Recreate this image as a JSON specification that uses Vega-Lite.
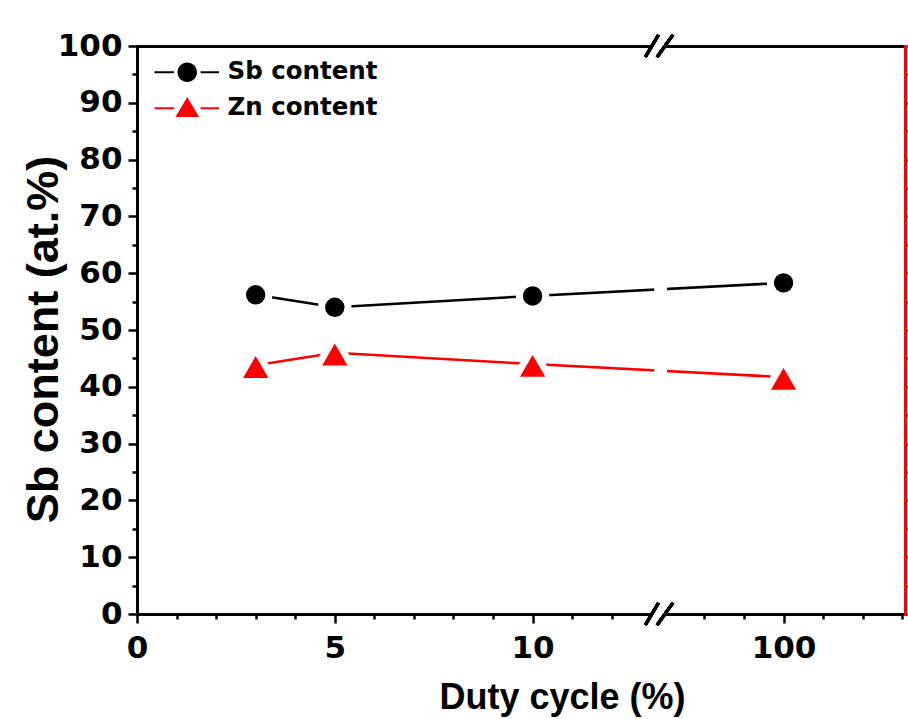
{
  "$schema": "https://vega.github.io/schema/vega-lite/v6.json",
  "autosize": {"type": "none"},
  "width": 768,
  "height": 568,
  "padding": {"left": 137, "top": 46, "right": 3, "bottom": 105},
  "background": "white",
  "config": {
    "view": {"stroke": null},
    "font": "Liberation Sans",
    "axis": {"grid": false}
  },
  "datasets": {
    "content": [
      {"duty": 3, "series": "Sb content", "value": 56.2},
      {"duty": 5, "series": "Sb content", "value": 54.0},
      {"duty": 10, "series": "Sb content", "value": 56.0},
      {"duty": 100, "series": "Sb content", "value": 58.3},
      {"duty": 3, "series": "Zn content", "value": 43.8},
      {"duty": 5, "series": "Zn content", "value": 46.0},
      {"duty": 10, "series": "Zn content", "value": 44.0},
      {"duty": 100, "series": "Zn content", "value": 41.7}
    ]
  },
  "data": {"name": "content"},
  "resolve": {"axis": {"x": "independent", "y": "independent"}},
  "layer": [
    {
      "transform": [{"filter": "datum.series === 'Sb content'"}],
      "mark": {"type": "line", "strokeWidth": 2.5, "color": "black"},
      "encoding": {
        "x": {
          "field": "duty", "type": "quantitative",
          "scale": {"domain": [0, 13.18, 68.4, 130.66], "range": [0, 521.4, 521.4, 768], "nice": false, "zero": false},
          "axis": {
            "orient": "bottom",
            "values": [0, 1, 2, 3, 4, 5, 6, 7, 8, 9, 10, 11, 12, 80, 90, 100, 110, 120, 130],
            "labelExpr": "indexof([0,5,10,100], datum.value) >= 0 ? datum.label : ''",
            "tickSize": {"condition": {"test": "indexof([0,5,10,100], datum.value) >= 0", "value": 9}, "value": 5},
            "tickWidth": 2.5, "tickColor": "black",
            "domainColor": "black", "domainWidth": 3, "domainCap": "square",
            "labelFont": "DejaVu Sans", "labelFontSize": 31, "labelFontWeight": "bold", "labelColor": "black",
            "labelPadding": 10, "labelFlush": false, "labelOverlap": false,
            "title": "Duty cycle (%)", "titleFontSize": 36, "titleFontWeight": "bold", "titleColor": "black",
            "titleX": 425, "titleY": 94, "titleBaseline": "alphabetic", "titleAlign": "center"
          }
        },
        "y": {
          "field": "value", "type": "quantitative",
          "scale": {"domain": [0, 100], "nice": false, "zero": false},
          "axis": {
            "orient": "left",
            "values": [0, 5, 10, 15, 20, 25, 30, 35, 40, 45, 50, 55, 60, 65, 70, 75, 80, 85, 90, 95, 100],
            "labelExpr": "datum.value % 10 === 0 ? datum.label : ''",
            "tickSize": {"condition": {"test": "datum.value % 10 === 0", "value": 9}, "value": 5},
            "tickWidth": 2.5, "tickColor": "black",
            "domainColor": "black", "domainWidth": 3, "domainCap": "square",
            "labelFont": "DejaVu Sans", "labelFontSize": 31, "labelFontWeight": "bold", "labelColor": "black",
            "labelPadding": 6, "labelFlush": false, "labelOverlap": false,
            "title": "Sb content (at.%)", "titleFontSize": 45, "titleFontWeight": "bold", "titleColor": "black",
            "titleAngle": 270, "titleX": -80, "titleY": 293, "titleBaseline": "alphabetic", "titleAlign": "center"
          }
        }
      }
    },
    {
      "transform": [{"filter": "datum.series === 'Zn content'"}],
      "mark": {"type": "line", "strokeWidth": 2.5, "color": "#ff0000"},
      "encoding": {
        "x": {"field": "duty", "type": "quantitative", "axis": null},
        "y": {"field": "value", "type": "quantitative", "axis": null}
      }
    },
    {
      "mark": {"type": "rule", "color": "white", "strokeWidth": 12},
      "encoding": {
        "x": {"datum": 69.0, "type": "quantitative",
          "axis": {"orient": "top", "labels": false, "ticks": false, "domainColor": "black", "domainWidth": 3, "domainCap": "square", "title": null}},
        "y": {"datum": 35, "type": "quantitative",
          "axis": {
            "orient": "right", "labels": false, "title": null,
            "values": [0, 5, 10, 15, 20, 25, 30, 35, 40, 45, 50, 55, 60, 65, 70, 75, 80, 85, 90, 95, 100],
            "tickSize": {"condition": {"test": "datum.value % 10 === 0", "value": 9}, "value": 5},
            "tickWidth": 2.5, "tickColor": "#ff0000",
            "domainColor": "#ff0000", "domainWidth": 3, "domainCap": "square"
          }},
        "y2": {"datum": 65}
      }
    },
    {
      "mark": {"type": "rule", "color": "white", "strokeWidth": 5},
      "encoding": {
        "x": {"datum": 13.0, "type": "quantitative", "axis": null},
        "x2": {"datum": 70.05},
        "y": {"datum": 0, "type": "quantitative", "axis": null}
      }
    },
    {
      "mark": {"type": "rule", "color": "white", "strokeWidth": 5},
      "encoding": {
        "x": {"datum": 13.0, "type": "quantitative", "axis": null},
        "x2": {"datum": 70.05},
        "y": {"datum": 100, "type": "quantitative", "axis": null}
      }
    },
    {
      "mark": {"type": "rule", "color": "black", "strokeWidth": 3},
      "encoding": {
        "x": {"datum": 12.85, "type": "quantitative", "axis": null},
        "x2": {"datum": 13.18},
        "y": {"datum": -1.94, "type": "quantitative", "axis": null},
        "y2": {"datum": 1.94}
      }
    },
    {
      "mark": {"type": "rule", "color": "black", "strokeWidth": 3},
      "encoding": {
        "x": {"datum": 13.145, "type": "quantitative", "axis": null},
        "x2": {"datum": 72.07},
        "y": {"datum": -1.94, "type": "quantitative", "axis": null},
        "y2": {"datum": 1.94}
      }
    },
    {
      "mark": {"type": "rule", "color": "black", "strokeWidth": 3},
      "encoding": {
        "x": {"datum": 12.85, "type": "quantitative", "axis": null},
        "x2": {"datum": 13.18},
        "y": {"datum": 98.06, "type": "quantitative", "axis": null},
        "y2": {"datum": 101.94}
      }
    },
    {
      "mark": {"type": "rule", "color": "black", "strokeWidth": 3},
      "encoding": {
        "x": {"datum": 13.145, "type": "quantitative", "axis": null},
        "x2": {"datum": 72.07},
        "y": {"datum": 98.06, "type": "quantitative", "axis": null},
        "y2": {"datum": 101.94}
      }
    },
    {
      "transform": [{"filter": "datum.series === 'Sb content'"}],
      "mark": {"type": "point", "shape": "circle", "filled": true, "opacity": 1, "fill": "black", "size": 700, "stroke": "white", "strokeWidth": 7},
      "encoding": {
        "x": {"field": "duty", "type": "quantitative", "axis": null},
        "y": {"field": "value", "type": "quantitative", "axis": null}
      }
    },
    {
      "transform": [{"filter": "datum.series === 'Zn content'"}],
      "mark": {"type": "point", "shape": "triangle-up", "filled": true, "opacity": 1, "fill": "#ff0000", "size": 1400, "stroke": "white", "strokeWidth": 7, "strokeJoin": "round"},
      "encoding": {
        "x": {"field": "duty", "type": "quantitative", "axis": null},
        "y": {"field": "value", "type": "quantitative", "axis": null}
      }
    },
    {
      "mark": {"type": "point", "filled": true, "opacity": 0},
      "encoding": {
        "x": {"field": "duty", "type": "quantitative", "axis": null},
        "y": {"field": "value", "type": "quantitative", "axis": null},
        "color": {
          "field": "series", "type": "nominal",
          "scale": {"domain": ["Sb content", "Zn content"], "range": ["black", "#ff0000"]},
          "legend": {"orient": "none", "legendX": 38, "legendY": 14, "title": null, "padding": 0,
            "labelFont": "DejaVu Sans", "labelFontSize": 24.5, "labelFontWeight": "bold", "labelColor": "black", "labelOffset": 28,
            "symbolSize": 420, "symbolOpacity": 1, "symbolStrokeWidth": 0, "rowPadding": 11}
        },
        "shape": {
          "field": "series", "type": "nominal",
          "scale": {"domain": ["Sb content", "Zn content"], "range": [
            "M-3.2,-0.1H-1.3V0.1H-3.2ZM1.3,-0.1H3.1V0.1H1.3ZM-0.95,0A0.95,0.95 0 1,0 0.95,0A0.95,0.95 0 1,0 -0.95,0Z",
            "M-3.2,-0.1H-1.3V0.1H-3.2ZM1.3,-0.1H3.1V0.1H1.3ZM0,-1.1L1.15,0.85L-1.15,0.85Z"
          ]},
          "legend": {"orient": "none", "legendX": 38, "legendY": 14, "title": null, "padding": 0,
            "labelFont": "DejaVu Sans", "labelFontSize": 24.5, "labelFontWeight": "bold", "labelColor": "black", "labelOffset": 28,
            "symbolSize": 420, "symbolOpacity": 1, "symbolStrokeWidth": 0, "rowPadding": 11}
        }
      }
    }
  ]
}
